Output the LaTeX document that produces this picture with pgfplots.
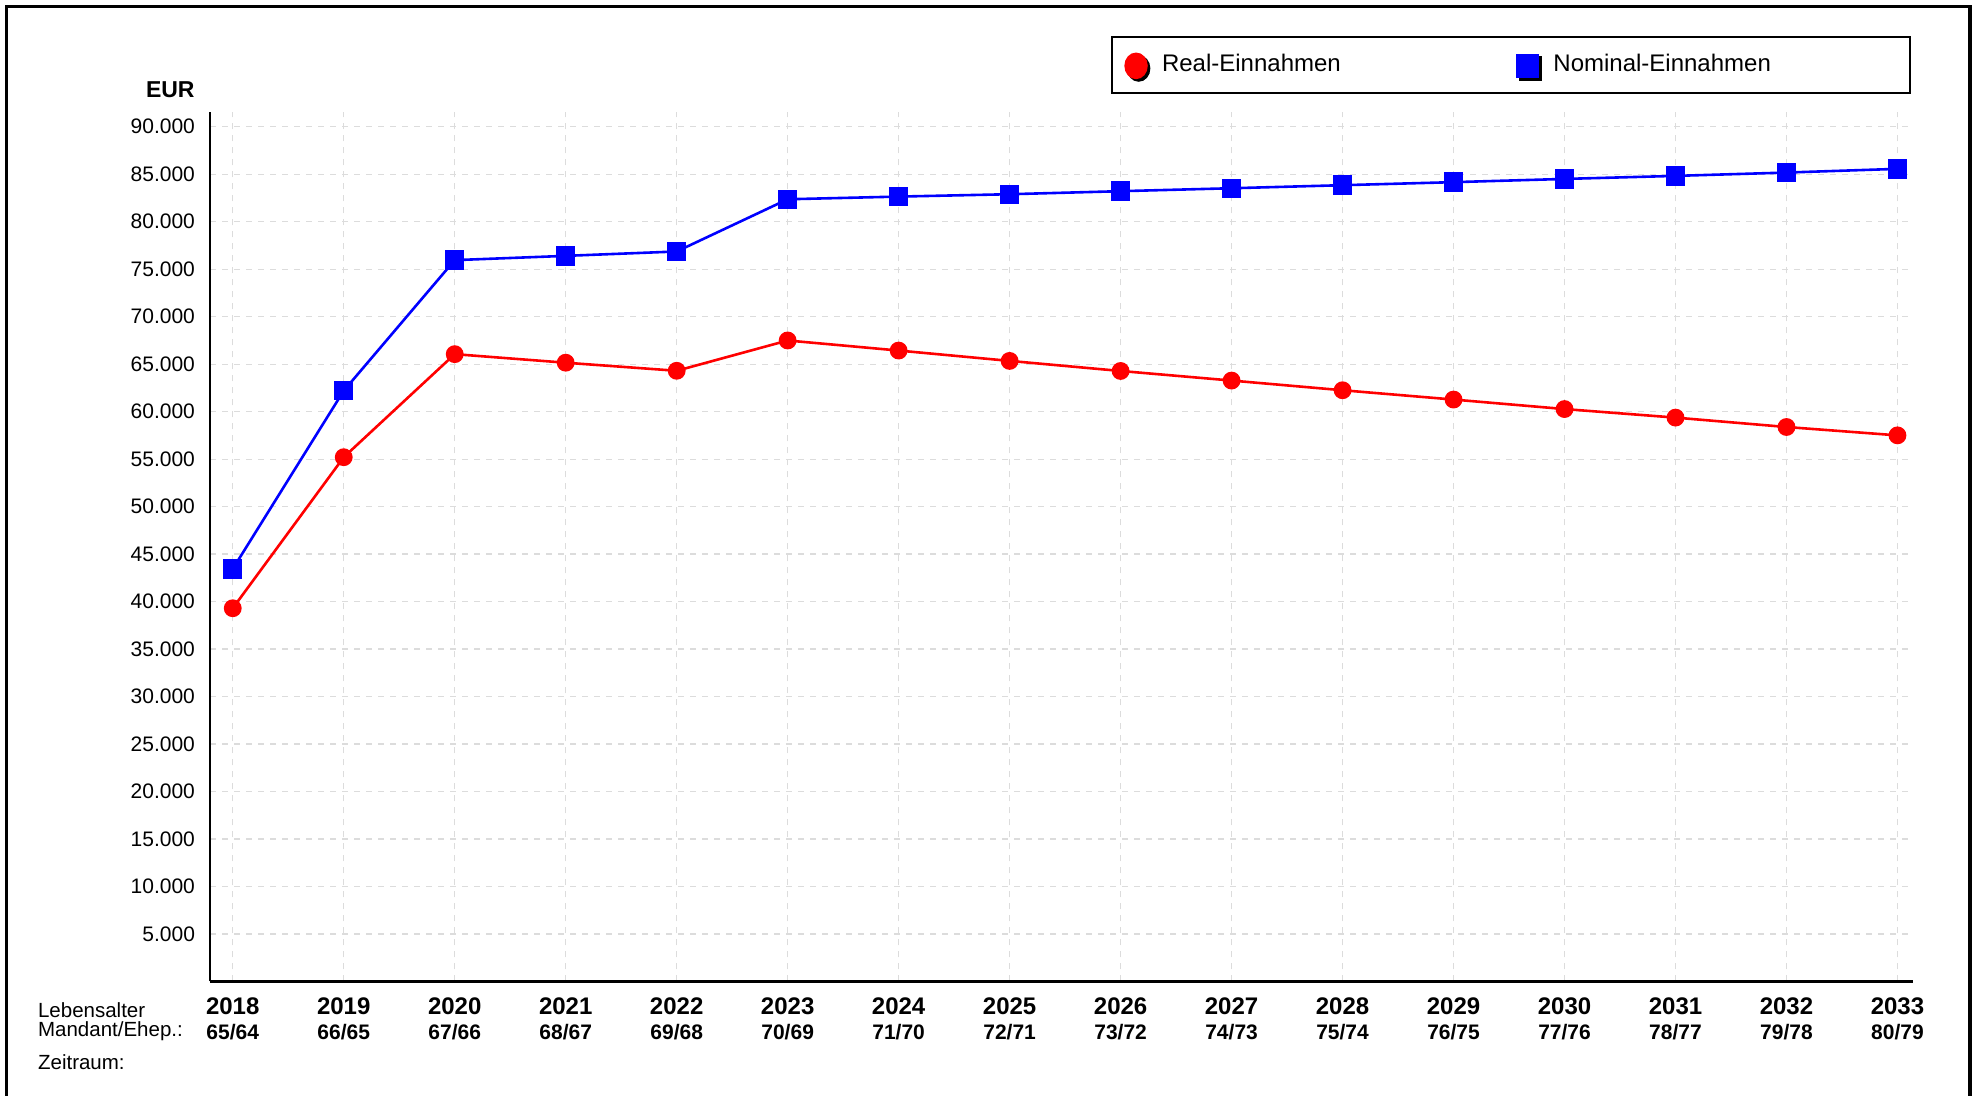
\documentclass[border=0pt]{standalone}
\usepackage{fontspec}
\setmainfont{Liberation Sans}
\usepackage{pgfplots}
\pgfplotsset{compat=1.18}

\definecolor{gridgray}{RGB}{220,220,220}
\definecolor{realred}{RGB}{255,0,0}
\definecolor{nomblue}{RGB}{0,0,255}

\begin{document}
\begin{tikzpicture}
\useasboundingbox (0,0) rectangle (987.5pt,548pt);
% outer frame (open at the bottom)
\draw[line width=1.6pt] (3.3pt,0pt) -- (3.3pt,544.6pt) -- (985pt,544.6pt) -- (985pt,0pt);

\begin{axis}[
  at={(105pt,57.25pt)}, anchor=south west,
  scale only axis, width=851.5pt, height=434.9pt,
  xmin=-0.205, xmax=15.14, ymin=0, ymax=91580,
  axis x line*=bottom, axis y line*=left,
  axis line style={line width=1.2pt},
  major tick length=0pt,
  grid=major,
  grid style={dashed, gridgray, line width=0.6pt},
  scaled y ticks=false,
  /pgf/number format/assume math mode=true,
  ytick={5000,10000,15000,20000,25000,30000,35000,40000,45000,50000,55000,60000,65000,70000,75000,80000,85000,90000},
  yticklabels={5.000,10.000,15.000,20.000,25.000,30.000,35.000,40.000,45.000,50.000,55.000,60.000,65.000,70.000,75.000,80.000,85.000,90.000},
  yticklabel style={font=\fontsize{10.5}{12}\selectfont},
  yticklabel shift=4pt,
  xtick={0,1,2,3,4,5,6,7,8,9,10,11,12,13,14,15},
  xticklabels={2018,2019,2020,2021,2022,2023,2024,2025,2026,2027,2028,2029,2030,2031,2032,2033},
  xticklabel style={font=\fontsize{12}{14}\selectfont\bfseries},
  xticklabel shift=4.4pt,
  extra x ticks={0,1,2,3,4,5,6,7,8,9,10,11,12,13,14,15},
  extra x tick labels={65/64,66/65,67/66,68/67,69/68,70/69,71/70,72/71,73/72,74/73,75/74,76/75,77/76,78/77,79/78,80/79},
  extra x tick style={grid=none, xticklabel style={font=\fontsize{10.5}{12}\selectfont\bfseries}, xticklabel shift=17.75pt},
  legend columns=2,
  legend style={at={(axis description cs:0.5291,1.0865)}, anchor=north west,
    draw=black, line width=1pt, inner xsep=3pt, inner ysep=5.5pt,
    column sep=0pt, font=\fontsize{12}{14}\selectfont},
  clip=false,
]
\addplot[color=realred, line width=1.3pt, mark=*, mark size=3.8pt,
  mark options={solid, fill=realred, draw=realred},
  legend image code/.code={
    \path[draw=none, fill=none] (-9pt,-7pt) rectangle (11pt,7pt);
    \fill[black] (1.3pt,-3pt) ellipse[x radius=5.2pt, y radius=6pt];
    \fill[realred] (0pt,-1.7pt) ellipse[x radius=5.2pt, y radius=6pt];
  }]
coordinates {
(0,39300) (1,55200) (2,66050) (3,65150) (4,64300) (5,67490) (6,66430) (7,65340)
(8,64280) (9,63270) (10,62250) (11,61270) (12,60270) (13,59370) (14,58380) (15,57500)
};
\addlegendentry{\raisebox{-1.7pt}{\makebox[171.7pt][l]{Real-Einnahmen}}}

\addplot[color=nomblue, line width=1.3pt, mark=square*, mark size=4.2pt,
  mark options={solid, fill=nomblue, draw=nomblue},
  legend image code/.code={
    \path[draw=none, fill=none] (-9pt,-7pt) rectangle (11pt,7pt);
    \fill[black] (-3.5pt,-8.5pt) rectangle (6.5pt,2.5pt);
    \fill[nomblue] (-5pt,-7.2pt) rectangle (5pt,3.8pt);
  }]
coordinates {
(0,43440) (1,62200) (2,75950) (3,76400) (4,76860) (5,82360) (6,82640) (7,82890)
(8,83210) (9,83520) (10,83840) (11,84160) (12,84500) (13,84820) (14,85170) (15,85560)
};
\addlegendentry{\raisebox{-1.7pt}{\makebox[173.5pt][l]{Nominal-Einnahmen}}}
\end{axis}

\node[anchor=east, inner sep=0pt, font=\fontsize{11.5}{13}\selectfont\bfseries] at (97.5pt,503pt) {EUR};
\node[anchor=west, inner sep=0pt, font=\fontsize{10.25}{12}\selectfont] at (18.85pt,43pt) {Lebensalter};
\node[anchor=west, inner sep=0pt, font=\fontsize{10.25}{12}\selectfont] at (18.85pt,32.15pt) {Mandant/Ehep.:};
\node[anchor=west, inner sep=0pt, font=\fontsize{10.25}{12}\selectfont] at (18.85pt,17.15pt) {Zeitraum:};
\end{tikzpicture}
\end{document}
